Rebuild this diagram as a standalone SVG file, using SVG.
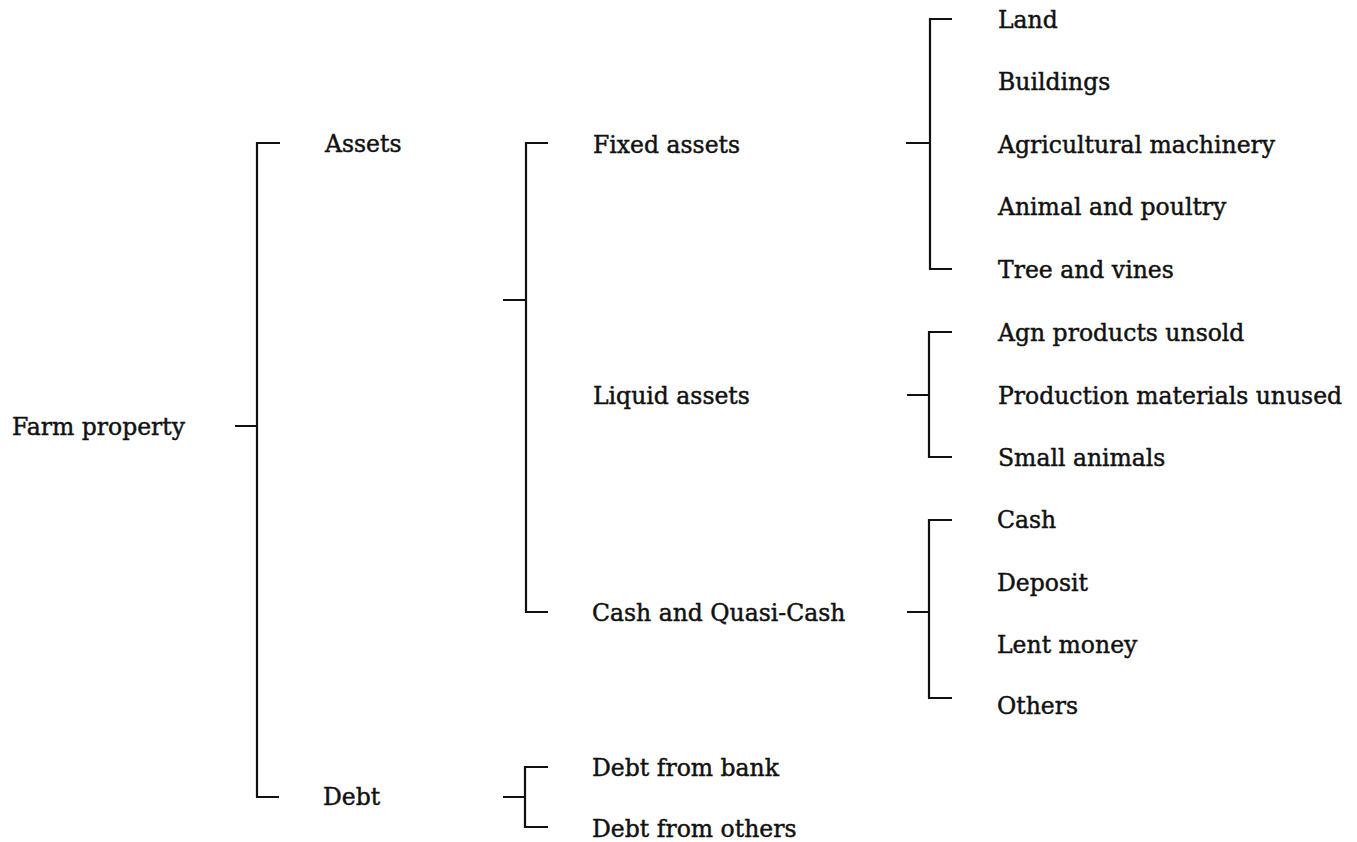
<svg xmlns="http://www.w3.org/2000/svg" width="1357" height="842" viewBox="0 0 1357 842">
<style>
text{font-family:"DejaVu Serif","Liberation Serif",serif;font-size:23.5px;fill:#111;stroke:#111;stroke-width:0.45;}
.c{fill:none;stroke:#111;stroke-width:2.2;}
</style>
<rect width="1357" height="842" fill="#fff"/>
<g id="connectors">
<path class="c" d="M280,143 H257 V797 H279 M235,426 H257"/>
<path class="c" d="M548,143 H526 V612 H548 M503,300 H526"/>
<path class="c" d="M952,19 H930 V269 H952 M906,143 H930"/>
<path class="c" d="M952,332 H929 V457 H952 M907,395 H929"/>
<path class="c" d="M952,520 H929 V698 H952 M907,612 H929"/>
<path class="c" d="M548,767 H525 V827 H548 M503,797 H525"/>
</g>
<g id="farm"><text x="12" y="435">Farm property</text></g>
<g id="assets"><text x="325" y="152">Assets</text></g>
<g id="debt"><text x="323" y="805">Debt</text></g>
<g id="fixed"><text x="593" y="153">Fixed assets</text></g>
<g id="liquid"><text x="593" y="404">Liquid assets</text></g>
<g id="cashq"><text x="592" y="621">Cash and Quasi-Cash</text></g>
<g id="debtbank"><text x="592" y="776">Debt from bank</text></g>
<g id="debtothers"><text x="592" y="837">Debt from others</text></g>
<g id="land"><text x="998" y="28">Land</text></g>
<g id="buildings"><text x="998" y="90">Buildings</text></g>
<g id="agri"><text x="998" y="153">Agricultural machinery</text></g>
<g id="animal"><text x="998" y="215">Animal and poultry</text></g>
<g id="tree"><text x="998" y="278">Tree and vines</text></g>
<g id="agn"><text x="998" y="341">Agn products unsold</text></g>
<g id="prod"><text x="998" y="404">Production materials unused</text></g>
<g id="small"><text x="998" y="466">Small animals</text></g>
<g id="cash"><text x="997" y="528">Cash</text></g>
<g id="deposit"><text x="997" y="591">Deposit</text></g>
<g id="lent"><text x="997" y="653">Lent money</text></g>
<g id="others"><text x="997" y="714">Others</text></g>
</svg>
